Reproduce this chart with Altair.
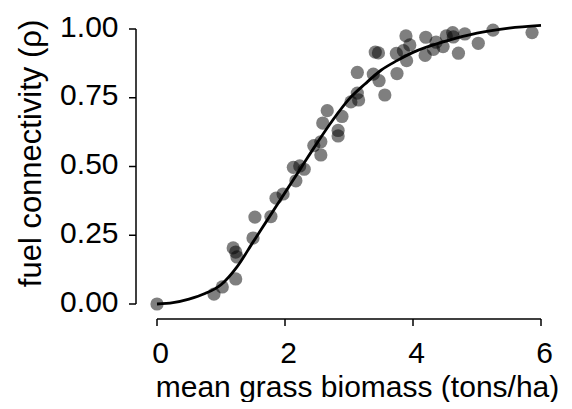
import altair as alt
import pandas as pd

# scatter observations (mean grass biomass, fuel connectivity)
biomass = [0.00, 0.89, 1.02, 1.23, 1.19, 1.23, 1.25, 1.50, 1.53, 1.78, 1.86, 1.97,
           2.17, 2.13, 2.23, 2.30, 2.45, 2.56, 2.56, 2.59, 2.66, 2.83, 2.83, 2.89,
           3.03, 3.13, 3.15, 3.13, 3.38, 3.47, 3.56, 3.41, 3.46, 3.75, 3.74, 3.89,
           3.85, 3.95, 3.90, 4.20, 4.19, 4.36, 4.32, 4.47, 4.52, 4.62, 4.63, 4.71,
           4.81, 5.02, 5.25, 5.86]
connectivity = [0.000, 0.036, 0.062, 0.091, 0.204, 0.189, 0.171, 0.240, 0.316, 0.318, 0.385, 0.400,
                0.448, 0.497, 0.502, 0.490, 0.576, 0.590, 0.542, 0.658, 0.703, 0.631, 0.611, 0.682,
                0.735, 0.767, 0.742, 0.842, 0.836, 0.812, 0.760, 0.916, 0.913, 0.838, 0.911, 0.975,
                0.921, 0.942, 0.885, 0.970, 0.904, 0.952, 0.926, 0.936, 0.975, 0.987, 0.971, 0.912,
                0.982, 0.948, 0.996, 0.987]

# fitted curve
curve_x = [0, 0.25, 0.5, 0.75, 1.0, 1.25, 1.5, 1.75, 2.0, 2.25, 2.5, 2.75, 3.0,
           3.25, 3.5, 3.75, 4.0, 4.5, 5.0, 5.5, 6.0]
curve_y = [0, 0.005, 0.018, 0.038, 0.07, 0.135, 0.225, 0.315, 0.405, 0.495, 0.585, 0.67, 0.745,
           0.80, 0.85, 0.885, 0.915, 0.955, 0.985, 1.003, 1.013]

x_ticks = [0, 2, 4, 6]
y_ticks = [0, 0.25, 0.5, 0.75, 1.0]

pts = pd.DataFrame({"x": biomass, "y": connectivity})
fit = pd.DataFrame({"x": curve_x, "y": curve_y})
xt = pd.DataFrame({"x": x_ticks})
yt = pd.DataFrame({"y": y_ticks})
xdom = pd.DataFrame({"x": [min(x_ticks)], "x2": [max(x_ticks)]})
ydom = pd.DataFrame({"y": [min(y_ticks)], "y2": [max(y_ticks)]})

FONT = "Liberation Sans"
W, H = 384, 275
XOFF, YOFF, TICK, LW = 15, 21, 7, 1.5

xscale = alt.Scale(domain=[0, 6], nice=False, zero=False)
yscale = alt.Scale(domain=[0, 1], nice=False, zero=False)

xaxis = alt.Axis(values=x_ticks, format="d", title="mean grass biomass (tons/ha)",
                 offset=XOFF, grid=False, domain=False, ticks=False,
                 labelFont=FONT, labelFontSize=30, labelColor="black",
                 labelPadding=12 + TICK, labelOffset=3, labelFlush=False, labelOverlap=False,
                 titleFont=FONT, titleFontSize=30, titleFontWeight="normal", titleColor="black",
                 titleX=200, titleY=77, titleBaseline="alphabetic", titleAlign="center")
yaxis = alt.Axis(values=y_ticks, format=".2f", title="fuel connectivity (ρ)",
                 offset=YOFF, grid=False, domain=False, ticks=False,
                 labelFont=FONT, labelFontSize=30, labelColor="black",
                 labelPadding=11 + TICK, labelOffset=-2, labelFlush=False, labelOverlap=False,
                 titleFont=FONT, titleFontSize=31, titleFontWeight="normal", titleColor="black",
                 titleX=-96, titleY=124, titleBaseline="alphabetic", titleAngle=-90,
                 titleAlign="center")

points = alt.Chart(pts).mark_circle(size=175, color="black", opacity=0.5, clip=False).encode(
    x=alt.X("x:Q", scale=xscale, axis=xaxis),
    y=alt.Y("y:Q", scale=yscale, axis=yaxis),
)

line = alt.Chart(fit).mark_line(color="black", strokeWidth=2.8, interpolate="monotone", clip=False).encode(
    x=alt.X("x:Q", scale=xscale, axis=xaxis),
    y=alt.Y("y:Q", scale=yscale, axis=yaxis),
)

# detached R-style axis lines and tick marks (drawn as filled shapes)
x_domain = alt.Chart(xdom).mark_rect(color="black", clip=False).encode(
    x=alt.X("x:Q", scale=xscale, axis=xaxis), x2="x2:Q",
    y=alt.value(H + XOFF - LW / 2), y2=alt.value(H + XOFF + LW / 2))
y_domain = alt.Chart(ydom).mark_rect(color="black", clip=False).encode(
    y=alt.Y("y:Q", scale=yscale, axis=yaxis), y2="y2:Q",
    x=alt.value(-YOFF - LW / 2), x2=alt.value(-YOFF + LW / 2))
x_tickmarks = alt.Chart(xt).mark_tick(color="black", orient="vertical", size=TICK,
                                      thickness=LW, opacity=1, clip=False).encode(
    x=alt.X("x:Q", scale=xscale, axis=xaxis), y=alt.value(H + XOFF + TICK / 2))
y_tickmarks = alt.Chart(yt).mark_tick(color="black", orient="horizontal", size=TICK,
                                      thickness=LW, opacity=1, clip=False).encode(
    y=alt.Y("y:Q", scale=yscale, axis=yaxis), x=alt.value(-YOFF - TICK / 2))

chart = alt.layer(x_domain, y_domain, x_tickmarks, y_tickmarks, points, line).properties(
    width=W, height=H,
    background="white",
    view=alt.ViewBackground(stroke="transparent"),
    autosize=alt.AutoSizeParams(type="none"),
    padding={"left": 149, "top": 21, "right": 22, "bottom": 98},
)

chart.save("out.html", embed_options={"renderer": "svg", "actions": False})
